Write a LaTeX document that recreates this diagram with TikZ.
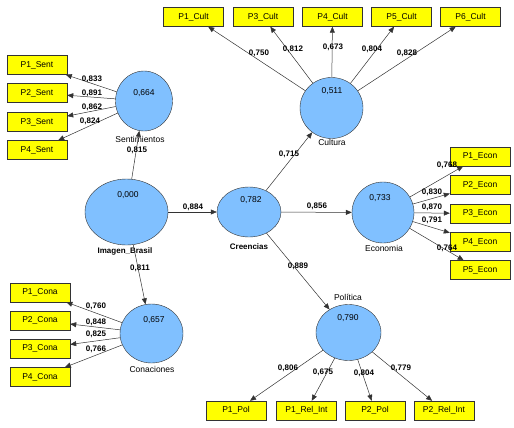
\documentclass[tikz,border=0pt]{standalone}
\usepackage{fontspec}
\setmainfont{Liberation Sans}
\usetikzlibrary{shapes.geometric,arrows.meta}
\definecolor{latblue}{RGB}{128,192,255}
\definecolor{boxyellow}{RGB}{255,255,0}

\begin{document}
\begin{tikzpicture}[x=1pt, y=-1pt,
  latent/.style={ellipse, draw=black!80, fill=latblue, inner sep=0pt},
  ind/.style={rectangle, draw=black!80, fill=boxyellow, minimum width=60pt, minimum height=19pt, inner sep=0pt, font=\fontsize{8.5}{10}\selectfont},
  txt/.style={inner sep=0pt, font=\fontsize{8.5}{10}\selectfont},
  btxt/.style={inner sep=0pt, font=\bfseries\fontsize{8}{10}\selectfont},
  arr/.style={draw=black!80, line width=0.5pt, -{Triangle[length=6pt,width=5pt]}}]
  \useasboundingbox (0,0) rectangle (514,428);
  % Nodes
  \node (sent) [latent, minimum width=57pt, minimum height=60pt] at (144, 101) {};
  \node (img) [latent, minimum width=83pt, minimum height=66pt] at (126.5, 212) {};
  \node (cre) [latent, minimum width=64pt, minimum height=50pt] at (249, 212) {};
  \node (cult) [latent, minimum width=63pt, minimum height=61pt] at (331.5, 108) {};
  \node (econ) [latent, minimum width=62pt, minimum height=61pt] at (383, 212.5) {};
  \node (cona) [latent, minimum width=63pt, minimum height=59pt] at (151.5, 333.5) {};
  \node (pol) [latent, minimum width=65pt, minimum height=56pt] at (348.5, 332.5) {};
  % Values and names
  \node (sentV) [txt] at (144, 93) {0,664};
  \node (imgV) [txt] at (128, 195) {0,000};
  \node (creV) [txt] at (251, 200) {0,782};
  \node (cultV) [txt] at (332, 91) {0,511};
  \node (econV) [txt] at (380, 198) {0,733};
  \node (conaV) [txt] at (154, 320) {0,657};
  \node (polV) [txt] at (348, 318) {0,790};
  \node (sentN) [txt] at (140, 139) {Sentimientos};
  \node (imgN) [btxt] at (125, 251) {Imagen\_Brasil};
  \node (creN) [btxt] at (249, 247) {Creencias};
  \node (cultN) [txt] at (332, 142) {Cultura};
  \node (econN) [txt] at (384, 248) {Economia};
  \node (conaN) [txt] at (152, 369) {Conaciones};
  \node (polN) [txt] at (348, 297) {Política};
  % Indicators
  \node (sent1) [ind] at (37, 65) {P1\_Sent};
  \node (sent2) [ind] at (37, 93) {P2\_Sent};
  \node (sent3) [ind] at (37, 122) {P3\_Sent};
  \node (sent4) [ind] at (37, 150) {P4\_Sent};
  \node (cult1) [ind] at (193.5, 17) {P1\_Cult};
  \node (cult3) [ind] at (263, 17) {P3\_Cult};
  \node (cult4) [ind] at (332.5, 17) {P4\_Cult};
  \node (cult5) [ind] at (401.5, 17) {P5\_Cult};
  \node (cult6) [ind] at (470.5, 17) {P6\_Cult};
  \node (econ1) [ind] at (480, 156.5) {P1\_Econ};
  \node (econ2) [ind] at (480, 185) {P2\_Econ};
  \node (econ3) [ind] at (480, 213.5) {P3\_Econ};
  \node (econ4) [ind] at (480, 242) {P4\_Econ};
  \node (econ5) [ind] at (480, 270) {P5\_Econ};
  \node (cona1) [ind] at (40, 292.5) {P1\_Cona};
  \node (cona2) [ind] at (40, 320.5) {P2\_Cona};
  \node (cona3) [ind] at (40, 348.5) {P3\_Cona};
  \node (cona4) [ind] at (40, 377) {P4\_Cona};
  \node (pol1) [ind] at (236, 410.5) {P1\_Pol};
  \node (rel1) [ind] at (306.5, 410.5) {P1\_Rel\_Int};
  \node (pol2) [ind] at (375, 410.5) {P2\_Pol};
  \node (rel2) [ind] at (444, 410.5) {P2\_Rel\_Int};
  % Arrows
  \draw[arr] (img) to[] (sent);
  \draw[arr] (img) to[] (cona);
  \draw[arr] (img) to[] (cre);
  \draw[arr] (cre) to[] (cult);
  \draw[arr] (cre) to[] (econ);
  \draw[arr] (cre) to[] (pol);
  \foreach \i in {1,2,3,4} {
    \draw[arr] (sent) to[] (sent\i);
    \draw[arr] (cona) to[] (cona\i);
  }
  \foreach \i in {1,3,4,5,6}
    \draw[arr] (cult) to[] (cult\i);
  \foreach \i in {1,...,5}
    \draw[arr] (econ) to[] (econ\i);
  \foreach \b in {pol1,rel1,pol2,rel2}
    \draw[arr] (pol) to[] (\b);
  % Weights
  \node (wImgSent) [btxt] at (137, 150) {0,815};
  \node (wImgCona) [btxt] at (140, 268) {0,811};
  \node (wImgCre) [btxt] at (193, 207) {0,884};
  \node (wCreCult) [btxt] at (289, 154) {0,715};
  \node (wCreEcon) [btxt] at (317, 206) {0,856};
  \node (wCrePol) [btxt] at (298, 266) {0,889};
  \node (wSent1) [btxt] at (92, 79) {0,833};
  \node (wSent2) [btxt] at (92, 93) {0,891};
  \node (wSent3) [btxt] at (92, 107) {0,862};
  \node (wSent4) [btxt] at (90, 121) {0,824};
  \node (wCult1) [btxt] at (259, 53) {0,750};
  \node (wCult3) [btxt] at (293, 49) {0,812};
  \node (wCult4) [btxt] at (333, 47) {0,673};
  \node (wCult5) [btxt] at (372, 49) {0,804};
  \node (wCult6) [btxt] at (407, 53) {0,828};
  \node (wEcon1) [btxt] at (447, 165) {0,768};
  \node (wEcon2) [btxt] at (432, 192) {0,830};
  \node (wEcon3) [btxt] at (432, 207) {0,870};
  \node (wEcon4) [btxt] at (432, 220) {0,791};
  \node (wEcon5) [btxt] at (447, 248) {0,764};
  \node (wCona1) [btxt] at (96, 306) {0,760};
  \node (wCona2) [btxt] at (96, 322) {0,848};
  \node (wCona3) [btxt] at (96, 334) {0,825};
  \node (wCona4) [btxt] at (96, 349) {0,766};
  \node (wPol1) [btxt] at (288, 368) {0,806};
  \node (wRel1) [btxt] at (323, 372) {0,675};
  \node (wPol2) [btxt] at (364, 373) {0,804};
  \node (wRel2) [btxt] at (401, 368) {0,779};
\end{tikzpicture}
\end{document}
